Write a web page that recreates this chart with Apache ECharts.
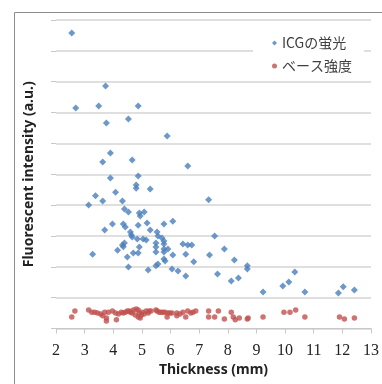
<!DOCTYPE html>
<html>
<head>
<meta charset="utf-8">
<script src="https://cdn.jsdelivr.net/npm/echarts@6/dist/echarts.min.js"></script>
<style>
  html, body { margin: 0; padding: 0; background: #fff; }
  #chart { width: 382px; height: 384px; }
</style>
</head>
<body>
<div id="chart"></div>
<script>
// ICGの蛍光 [thickness, intensity]
var icgData = [
    [2.55, 9.58], [3.73, 7.86], [2.69, 7.15], [3.49, 7.21], [4.87, 7.21], [4.53, 6.79],
    [3.76, 6.66], [5.88, 6.24], [3.90, 5.69], [3.63, 5.40], [4.66, 5.46], [6.60, 5.27],
    [3.90, 4.88], [4.87, 4.94], [4.80, 4.65], [4.80, 4.55], [4.08, 4.42], [5.29, 4.52],
    [3.38, 4.30], [3.14, 4.00], [3.63, 4.13], [4.32, 4.13], [4.39, 3.87], [4.53, 3.78],
    [4.91, 3.74], [4.94, 3.65], [5.08, 3.78], [5.18, 3.42], [3.97, 3.39], [4.35, 3.39],
    [4.42, 3.29], [4.87, 3.35], [5.77, 3.39], [6.08, 3.48], [3.70, 3.19], [4.60, 3.13],
    [4.63, 3.03], [4.66, 2.97], [5.29, 3.19], [5.53, 3.13], [5.56, 3.00], [4.84, 2.90],
    [5.04, 2.90], [5.15, 2.87], [5.70, 2.93], [5.77, 2.84], [5.49, 2.77], [4.39, 2.77],
    [4.32, 2.71], [4.35, 2.65], [5.77, 2.74], [6.43, 2.74], [6.60, 2.71], [6.74, 2.71],
    [5.49, 2.64], [5.91, 2.58], [4.91, 2.64], [4.15, 2.54], [5.77, 2.58], [5.77, 2.48],
    [5.49, 2.48], [4.70, 2.45], [4.87, 2.45], [3.28, 2.41], [6.53, 2.41], [6.08, 2.38],
    [4.49, 2.32], [5.77, 2.25], [5.81, 2.19], [6.81, 2.16], [5.56, 2.09], [5.49, 2.03],
    [4.53, 1.99], [5.22, 1.90], [6.05, 1.93], [6.26, 1.86], [6.53, 1.70], [7.33, 4.17],
    [7.54, 3.00], [7.36, 2.38], [7.88, 2.58], [8.23, 2.22], [7.64, 1.77], [8.68, 2.03],
    [8.68, 1.93], [8.12, 1.54], [8.37, 1.64], [9.23, 1.18], [9.92, 1.38], [10.13, 1.51],
    [10.34, 1.83], [10.69, 1.18], [11.86, 1.15], [12.03, 1.35], [12.42, 1.25]
];

// ベース強度
var baseData = [
    [2.55, 0.37], [2.66, 0.57], [3.14, 0.60], [3.25, 0.53], [3.35, 0.53], [3.45, 0.50],
    [3.56, 0.47], [3.63, 0.41], [3.70, 0.53], [3.76, 0.34], [3.76, 0.24], [3.83, 0.53],
    [3.97, 0.57], [4.08, 0.50], [4.11, 0.28], [4.18, 0.47], [4.28, 0.53], [4.35, 0.50],
    [4.42, 0.53], [4.49, 0.57], [4.56, 0.57], [4.60, 0.53], [4.66, 0.50], [4.70, 0.60],
    [4.77, 0.44], [4.80, 0.63], [4.87, 0.60], [4.87, 0.37], [4.91, 0.50], [4.94, 0.34],
    [4.98, 0.44], [5.01, 0.53], [5.08, 0.47], [5.15, 0.57], [5.22, 0.50], [5.25, 0.57],
    [5.32, 0.57], [5.49, 0.60], [5.53, 0.57], [5.60, 0.53], [5.67, 0.53], [5.74, 0.53],
    [5.81, 0.53], [5.91, 0.50], [5.88, 0.37], [5.98, 0.50], [6.05, 0.50], [6.22, 0.50],
    [6.22, 0.41], [6.33, 0.47], [6.43, 0.53], [6.53, 0.37], [6.60, 0.57], [6.71, 0.50],
    [6.78, 0.53], [6.88, 0.57], [7.33, 0.57], [7.33, 0.37], [7.54, 0.37], [7.67, 0.57],
    [7.88, 0.31], [8.12, 0.53], [8.19, 0.37], [8.26, 0.28], [8.40, 0.34], [8.68, 0.31],
    [8.71, 0.34], [9.23, 0.37], [9.96, 0.53], [10.17, 0.53], [10.37, 0.60], [10.69, 0.37],
    [11.90, 0.37], [12.07, 0.31], [12.42, 0.34]
];

var xMin = 2, xMax = 13;
var yMin = 0, yMax = 10;

var chart = echarts.init(document.getElementById('chart'), null, { renderer: 'canvas' });

var option = {
    animation: false,
    backgroundColor: '#fff',
    // 外枠
    graphic: [{
        type: 'rect',
        left: 12,
        top: 10,
        shape: { width: 420, height: 420 },
        style: { fill: 'none', stroke: '#8c8c8c', lineWidth: 1 },
        z: -1
    }],
    grid: { left: 56, right: 8, top: 20, bottom: 55.5 },
    legend: {
        orient: 'vertical',
        left: 253,
        top: 26,
        padding: [10, 12, 4, 19],
        backgroundColor: '#fff',
        itemWidth: 5,
        itemHeight: 5,
        itemGap: 9,
        textStyle: { fontFamily: 'Noto Sans CJK JP', fontSize: 14, color: '#404040' },
        data: ['ICGの蛍光', 'ベース強度']
    },
    xAxis: {
        type: 'value',
        min: xMin,
        max: xMax,
        interval: 1,
        name: 'Thickness (mm)',
        nameLocation: 'middle',
        nameGap: 35,
        nameTextStyle: { fontFamily: 'Noto Sans', fontWeight: 'bold', fontSize: 14, color: '#222' },
        axisLine: { show: true, lineStyle: { color: '#c8c8c8' } },
        axisTick: { show: true, length: 5, lineStyle: { color: '#c8c8c8' } },
        axisLabel: { fontFamily: 'Liberation Serif', fontSize: 16, color: '#222', margin: 14 },
        splitLine: { show: false }
    },
    yAxis: {
        type: 'value',
        min: yMin,
        max: yMax,
        interval: 1,
        name: 'Fluorescent intensity (a.u.)',
        nameLocation: 'middle',
        nameGap: 20,
        nameTextStyle: { fontFamily: 'Noto Sans', fontWeight: 'bold', fontSize: 14, color: '#222' },
        axisLine: { show: false },
        axisTick: { show: true, length: 5, lineStyle: { color: '#c8c8c8' } },
        axisLabel: { show: false },
        splitLine: { show: true, lineStyle: { color: '#d4d4d4', width: 1.5 } }
    },
    series: [{
        name: 'ICGの蛍光',
        type: 'scatter',
        symbol: 'diamond',
        symbolSize: 7,
        itemStyle: { color: '#4a7ebb' },
        data: icgData
    }, {
        name: 'ベース強度',
        type: 'scatter',
        symbol: 'circle',
        symbolSize: 5.5,
        itemStyle: { color: '#c0504d' },
        data: baseData
    }]
};

chart.setOption(option);
</script>
</body>
</html>
